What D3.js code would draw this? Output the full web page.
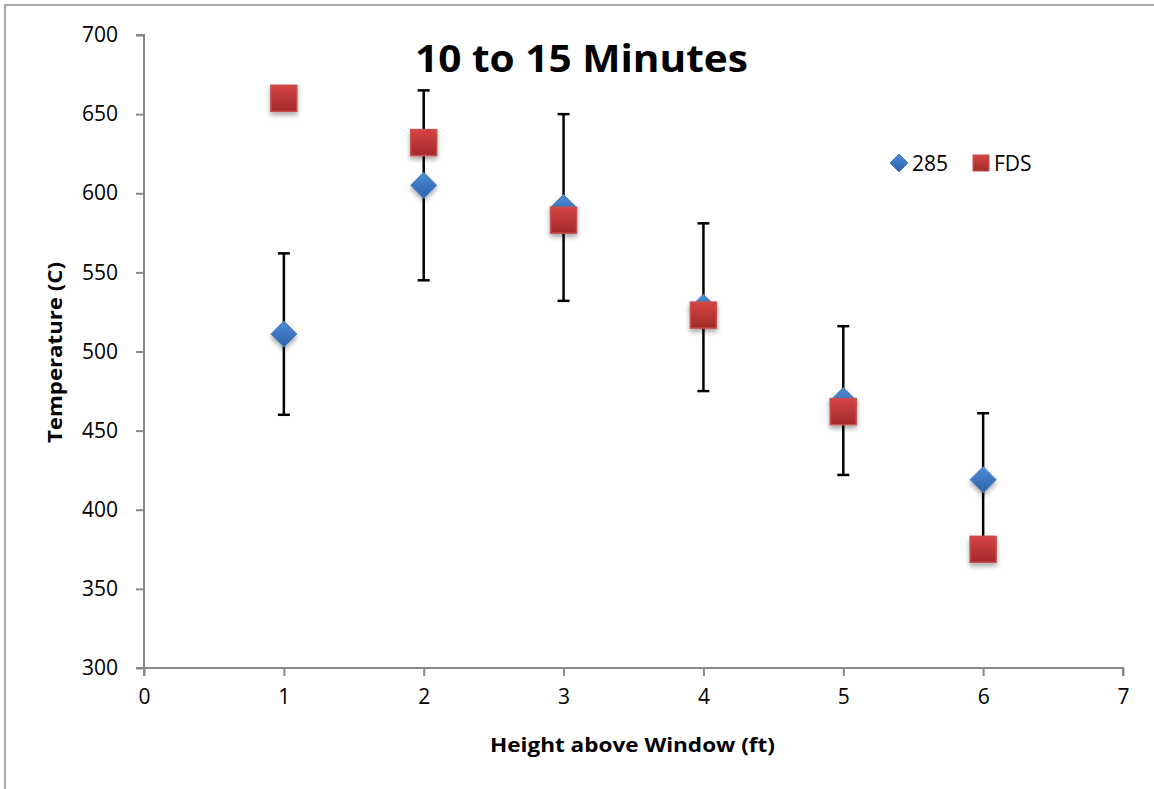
<!DOCTYPE html>
<html>
<head>
<meta charset="utf-8">
<script src="https://cdn.jsdelivr.net/npm/d3@7"></script>
<style>
  body { margin: 0; background: #fff; }
  text { font-family: "Open Sans", "Noto Sans", sans-serif; }
</style>
</head>
<body>
<svg width="1154" height="789"></svg>
<script>
// data
let heights = [1, 2, 3, 4, 5, 6]
let temp285 = [511, 605, 591, 528, 469, 419]
let err285 = [51, 60, 59, 53, 47, 42]
let tempFDS = [660, 632, 583, 523, 462, 375]
let xTicks = [0, 1, 2, 3, 4, 5, 6, 7]
let yTicks = [300, 350, 400, 450, 500, 550, 600, 650, 700]

let svg = d3.select('svg')

let plotLeft = 144, plotRight = 1123, plotTop = 35, plotBottom = 668

let xScale = d3.scaleLinear().domain([0, 7]).range([plotLeft, plotRight])
let yScale = d3.scaleLinear().domain([300, 700]).range([plotBottom, plotTop])

let defs = svg.append('defs')

let blue = defs.append('linearGradient').attr('id', 'blueGrad')
    .attr('x1', 0).attr('y1', 0).attr('x2', 0).attr('y2', 1)
blue.append('stop').attr('offset', '0%').attr('stop-color', '#4f8ad6')
blue.append('stop').attr('offset', '100%').attr('stop-color', '#2d62aa')

let red = defs.append('linearGradient').attr('id', 'redGrad')
    .attr('x1', 0).attr('y1', 0).attr('x2', 0).attr('y2', 1)
red.append('stop').attr('offset', '0%').attr('stop-color', '#d64343')
red.append('stop').attr('offset', '100%').attr('stop-color', '#a22a2a')

let shadow = defs.append('filter').attr('id', 'shadow')
    .attr('x', '-50%').attr('y', '-50%').attr('width', '200%').attr('height', '200%')
shadow.append('feDropShadow').attr('dx', 0).attr('dy', 3).attr('stdDeviation', 2.5)
    .attr('flood-color', '#000').attr('flood-opacity', 0.35)

// outer frame (left and top only visible)
svg.append('path')
   .attr('d', 'M5,789 L5,5 L1154,5')
   .attr('fill', 'none')
   .attr('stroke', '#8c8c8c')
   .attr('stroke-width', 1.5)

// axes
let yAxis = d3.axisLeft(yScale).tickValues(yTicks).tickSize(8).tickPadding(18)
let xAxis = d3.axisBottom(xScale).tickValues(xTicks).tickFormat(d3.format('d'))
    .tickSize(8).tickPadding(13)

let gy = svg.append('g').attr('transform', 'translate(' + plotLeft + ',0)').call(yAxis)
let gx = svg.append('g').attr('transform', 'translate(0,' + plotBottom + ')').call(xAxis)

;[gx, gy].forEach(g => {
    g.select('.domain').attr('stroke', '#888').attr('stroke-width', 2)
    g.selectAll('.tick line').attr('stroke', '#888').attr('stroke-width', 2)
    g.selectAll('.tick text').attr('font-size', 21).attr('fill', '#000')
        .style('font-family', '"Open Sans", "Noto Sans", sans-serif')
})
gy.select('.domain').attr('d', 'M-8,' + plotTop + 'H0V' + plotBottom + 'H-8')
gx.select('.domain').attr('d', 'M' + plotLeft + ',8V0H' + plotRight + 'V8')

// error bars for 285
let bars = svg.append('g')
heights.forEach((h, i) => {
    let x = xScale(h)
    let hi = yScale(temp285[i] + err285[i])
    let lo = yScale(temp285[i] - err285[i])
    bars.append('line').attr('x1', x).attr('x2', x).attr('y1', hi).attr('y2', lo)
        .attr('stroke', '#000').attr('stroke-width', 2.5)
    ;[hi, lo].forEach(y => {
        bars.append('line').attr('x1', x - 6).attr('x2', x + 6).attr('y1', y).attr('y2', y)
            .attr('stroke', '#000').attr('stroke-width', 2.5)
    })
})

let diamond = (cx, cy, r) =>
    'M' + cx + ',' + (cy - r) + 'L' + (cx + r) + ',' + cy + 'L' + cx + ',' + (cy + r) + 'L' + (cx - r) + ',' + cy + 'Z'

// 285 diamonds
svg.append('g').selectAll('path')
   .data(heights)
   .enter()
   .append('path')
   .attr('d', (d, i) => diamond(xScale(d), yScale(temp285[i]), 13))
   .attr('fill', 'url(#blueGrad)')
   .attr('stroke', '#4a7fc4')
   .attr('stroke-width', 1)
   .attr('filter', 'url(#shadow)')

// FDS squares
svg.append('g').selectAll('rect')
   .data(heights)
   .enter()
   .append('rect')
   .attr('x', d => xScale(d) - 13)
   .attr('y', (d, i) => yScale(tempFDS[i]) - 13)
   .attr('width', 26)
   .attr('height', 26)
   .attr('fill', 'url(#redGrad)')
   .attr('stroke', '#c85050')
   .attr('stroke-width', 1.5)
   .attr('filter', 'url(#shadow)')

// legend
let legend = svg.append('g')
legend.append('path').attr('d', diamond(899, 163, 9))
    .attr('fill', 'url(#blueGrad)').attr('stroke', '#4a7fc4')
legend.append('text').attr('x', 912).attr('y', 171).attr('font-size', 21).text('285')
legend.append('rect').attr('x', 973).attr('y', 155).attr('width', 16).attr('height', 16)
    .attr('fill', 'url(#redGrad)').attr('stroke', '#c85050')
legend.append('text').attr('x', 994).attr('y', 171).attr('font-size', 21).text('FDS')

// title and axis labels
svg.append('text')
   .attr('x', 415).attr('y', 72)
   .attr('font-size', 38).attr('font-weight', 'bold')
   .attr('textLength', 333).attr('lengthAdjust', 'spacingAndGlyphs')
   .text('10 to 15 Minutes')

svg.append('text')
   .attr('x', 490).attr('y', 752)
   .attr('font-size', 20).attr('font-weight', 'bold')
   .attr('textLength', 285).attr('lengthAdjust', 'spacingAndGlyphs')
   .text('Height above Window (ft)')

svg.append('text')
   .attr('transform', 'translate(62,443) rotate(-90)')
   .attr('font-size', 20).attr('font-weight', 'bold')
   .attr('textLength', 181).attr('lengthAdjust', 'spacingAndGlyphs')
   .text('Temperature (C)')
</script>
</body>
</html>
